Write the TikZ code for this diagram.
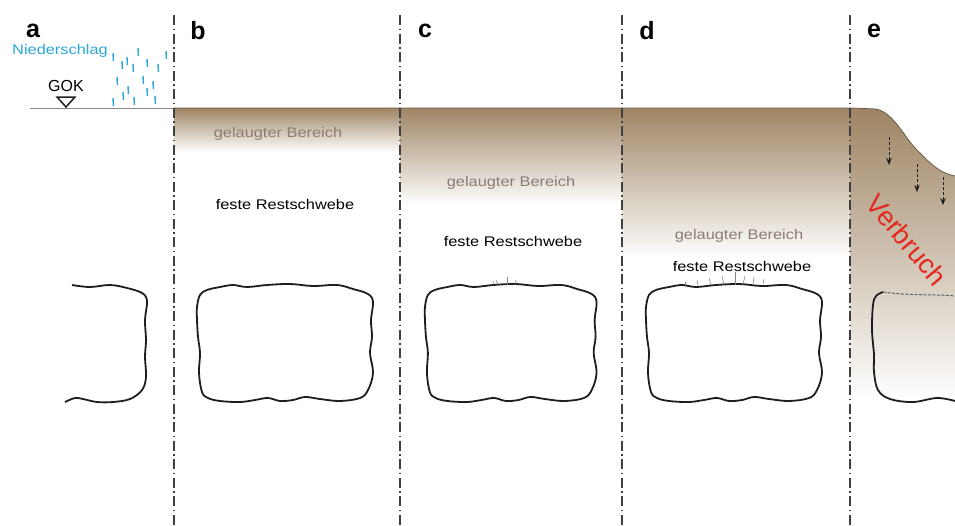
\documentclass[tikz,border=0pt]{standalone}
\usepackage{fontspec}
\setmainfont{Liberation Sans}
\newfontfamily\widesans{Liberation Sans}[FakeStretch=1.17]
\usetikzlibrary{arrows.meta}
\definecolor{ink}{HTML}{1E1E1E}
\definecolor{soil}{HTML}{9E8463}
\definecolor{soilmid}{HTML}{DDD0C1}
\definecolor{soiledge}{HTML}{6A5B4C}
\definecolor{leach}{HTML}{8A7B76}
\definecolor{rain}{HTML}{2BA6D8}
\definecolor{collapse}{HTML}{E3271E}
\definecolor{ground}{HTML}{8A8A8A}
\tikzset{
  >={Stealth[length=7pt,width=5.5pt]},
  divider/.style={line width=1.6pt,color=ink!85,dash pattern=on 10pt off 3.5pt on 1.5pt off 3.5pt},
  cavline/.style={line width=1.8pt,color=ink},
  tag/.style={font=\fontsize{25}{26}\selectfont\bfseries,text=black},
  zone/.style={font=\fontsize{14}{16}\selectfont\widesans,text=leach},
  rest/.style={font=\fontsize{14}{16}\selectfont\widesans,text=black},
  drop/.style={line width=1.4pt,color=rain},
  crack/.style={line width=.6pt,color=ink!55},
  sink/.style={->,densely dashed,line width=.8pt,color=ink},
  cavity/.pic={
    \draw[cavline] plot[smooth cycle,tension=.6] coordinates {
      (4,11) (11,6) (24,3) (37,1) (51,3) (71,1) (94,0) (117,2) (141,1) (157,5)
      (172,10) (177,18) (175,36) (176,53) (174,69) (177,89) (172,106) (164,114)
      (144,117) (124,115) (109,113) (97,116) (84,117) (72,114) (59,116) (44,118)
      (24,117) (12,114) (6,108) (3,89) (4,69) (2,53) (1,36) (1,23)};
  },
}

\begin{document}
\begin{tikzpicture}[x=1pt,y=-1pt]
  \useasboundingbox (0,0) rectangle (955,525);

  % leached zones above the cavities
  \shade[top color=soil,bottom color=white] (174,108) rectangle (400,152);
  \shade[top color=soil,bottom color=white] (400,108) rectangle (622,205);
  \shade[top color=soil,bottom color=white] (622,108) rectangle (850,258);
  \shade[top color=soil,middle color=soilmid,bottom color=white]
    (850,108) -- (876,109) .. controls (895,113) and (905,140) .. (920,153)
    .. controls (932,165) and (940,173) .. (955,176) -- (955,400) -- (850,400) -- cycle;

  % ground surface
  \draw[ground,line width=.9pt] (30,108) -- (174,108);
  \draw[soiledge,line width=.8pt] (174,108) -- (850,108) -- (876,109)
    .. controls (895,113) and (905,140) .. (920,153)
    .. controls (932,165) and (940,173) .. (955,176);

  \foreach \x in {174,400,622,850}
    \draw[divider] (\x,15) -- (\x,525);

  \node[tag] (la) at (33,31) {a};
  \node[tag] (lb) at (198,31) {b};
  \node[tag] (lc) at (425,31) {c};
  \node[tag] (ld) at (647,31) {d};
  \node[tag] (le) at (874,31) {e};

  % precipitation and reference level
  \node[font=\fontsize{14}{16}\selectfont\widesans,text=rain] (rainlbl) at (60,51) {Niederschlag};
  \foreach \x/\y in {113/57,122/65,127/61,133/68,138/52,147/63,158/68,166/55,
                     117/81,128/90,123/96,143/80,147/92,153/85,113/102,134/101,155/100}
    \draw[drop] (\x,\y-4) -- (\x+.4,\y+4);
  \node[font=\fontsize{16}{18}\selectfont] (gok) at (66,86) {GOK};
  \draw[line width=1.5pt,ink,line join=miter] (57,97) -- (75,97) -- (66,107) -- cycle;

  % cavities
  \draw[cavline] plot[smooth,tension=.6] coordinates {
    (72,285) (90,287) (110,285) (127,288) (142,293) (147,301) (145,320) (146,340)
    (145,357) (146,377) (142,390) (130,399) (113,402) (97,402) (83,399) (75,398) (65,402)};
  \pic at (196,284) {cavity};
  \pic[xscale=.975] at (424,284) {cavity};
  \pic at (645,284) {cavity};
  \draw[cavline] plot[smooth,tension=.6] coordinates {
    (883,292) (876,296) (873,305) (872,330) (874,355) (874,372) (878,390)
    (890,399) (913,402) (937,398) (955,401)};
  \draw[ink!70,line width=1pt,dash pattern=on 3pt off 1.5pt] (883,292) .. controls (910,296) and (935,294) .. (955,296);

  % cracks in the roof
  \foreach \x/\y/\u/\v in {494/285/493/281,498/285/496/280,507/285/507/277,515/285/516/280}
    \draw[crack] (\x,\y) -- (\u,\v);
  \foreach \x/\y/\u/\v in {685/285/685/282,698/285/697/280,711/285/709/278,724/285/722/276,
                           735/285/735/272,743/284/745/276,753/284/754/277,763/284/764/279}
    \draw[crack] (\x,\y) -- (\u,\v);

  % labels of the zones
  \node[zone] (zb) at (278,134) {gelaugter Bereich};
  \node[rest] (rb) at (285,204) {feste Restschwebe};
  \node[zone] (zc) at (511,183) {gelaugter Bereich};
  \node[rest] (rc) at (513,241) {feste Restschwebe};
  \node[zone] (zd) at (739,236) {gelaugter Bereich};
  \node[rest] (rd) at (742,266) {feste Restschwebe};

  % collapse
  \node[font=\fontsize{27}{29}\selectfont,text=collapse,rotate=-50] (verbruch) at (907,240) {Verbruch};
  \foreach \x/\y in {889/137,917/164,943/177}
    \draw[sink] (\x,\y) -- (\x,\y+28);
\end{tikzpicture}
\end{document}
